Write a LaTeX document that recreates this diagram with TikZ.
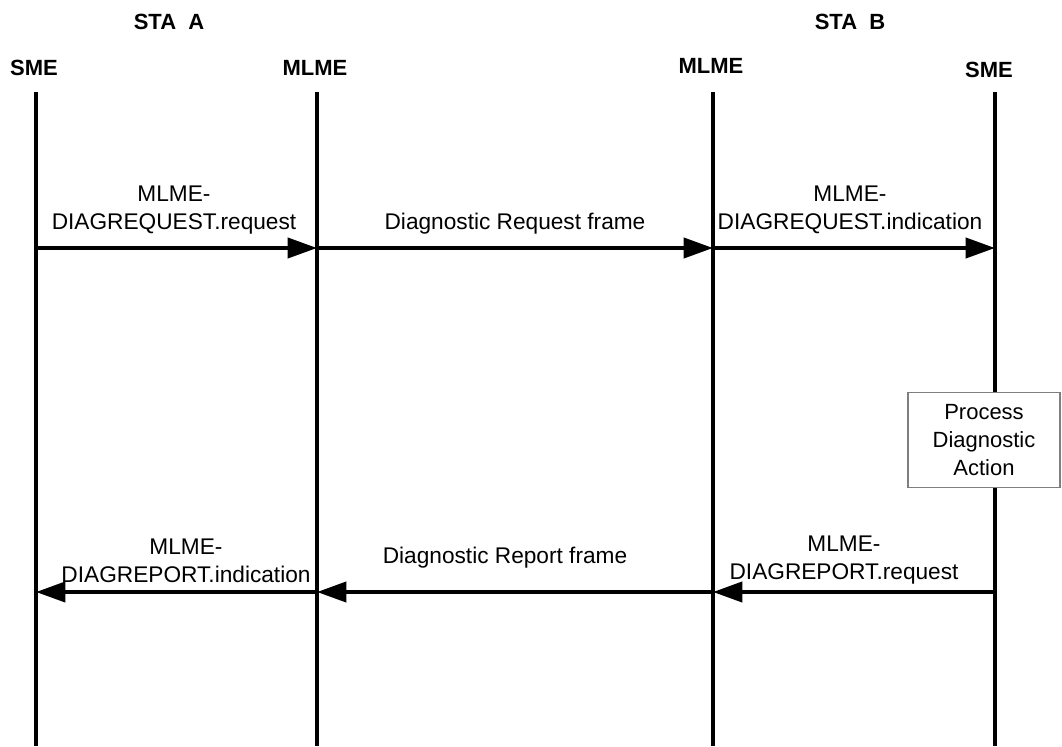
\documentclass[tikz,border=0pt]{standalone}
\usepackage{fontspec}
\setmainfont{Liberation Sans}
\usetikzlibrary{arrows.meta,positioning}
\definecolor{ink}{HTML}{000000}
\definecolor{boxgray}{HTML}{7F7F7F}
\tikzset{
  hdr/.style={font=\fontsize{16.5}{20}\selectfont\bfseries,inner sep=0pt,text=ink},
  msg/.style={font=\fontsize{17}{21}\selectfont,align=center,inner sep=0pt,
              anchor=south,text=ink},
  life/.style={line width=3pt,color=ink},
  sig/.style={line width=3pt,color=ink,-{Triangle[length=22pt,width=15pt]}},
  procbox/.style={rectangle,draw=boxgray,fill=white,line width=0.8pt,
                  minimum width=114pt,minimum height=71pt,
                  font=\fontsize{16.5}{21}\selectfont,align=center,text=ink},
}
\begin{document}
\begin{tikzpicture}[x=0.75pt,y=-0.75pt]
  \useasboundingbox (0,0) rectangle (1062,746);

  % station and entity headers
  \node[hdr] (staA) at (169,22) {STA\ \ A};
  \node[hdr] (staB) at (850,22) {STA\ \ B};
  \node[hdr] (smeA)  at (34,68)  {SME};
  \node[hdr] (mlmeA) at (315,68) {MLME};
  \node[hdr] (mlmeB) at (711,66) {MLME};
  \node[hdr] (smeB)  at (989,70) {SME};

  % lifelines
  \coordinate (smeA top)  at (36,92);   \coordinate (smeA bot)  at (36,746);
  \coordinate (mlmeA top) at (317,92);  \coordinate (mlmeA bot) at (317,746);
  \coordinate (mlmeB top) at (713,92);  \coordinate (mlmeB bot) at (713,746);
  \coordinate (smeB top)  at (995,92);  \coordinate (smeB bot)  at (995,746);
  \draw[life] (smeA top) -- (smeA bot);
  \draw[life] (mlmeA top) -- (mlmeA bot);
  \draw[life] (mlmeB top) -- (mlmeB bot);
  \draw[life] (smeB top) -- (smeB bot);

  % request path
  \coordinate (q1) at (36,248);  \coordinate (q2) at (317,248);
  \coordinate (q3) at (713,248); \coordinate (q4) at (995,248);
  \draw[sig] (q1) -- (q2);
  \draw[sig] (q2) -- (q3);
  \draw[sig] (q3) -- (q4);
  \node[msg] (reqlbl)  at (174,234) {MLME-\\DIAGREQUEST.request};
  \node[msg] (rqframe) at (515,234) {Diagnostic Request frame};
  \node[msg] (indlbl)  at (850,234) {MLME-\\DIAGREQUEST.indication};

  % processing at STA B
  \node[procbox] (proc) at (984,440) {Process\\Diagnostic\\Action};

  % report path
  \coordinate (r4) at (995,592); \coordinate (r3) at (713,592);
  \coordinate (r2) at (317,592); \coordinate (r1) at (36,592);
  \draw[sig] (r4) -- (r3);
  \draw[sig] (r3) -- (r2);
  \draw[sig] (r2) -- (r1);
  \node[msg] (replbl)  at (844,584) {MLME-\\DIAGREPORT.request};
  \node[msg] (rpframe) at (505,568) {Diagnostic Report frame};
  \node[msg] (rindlbl) at (186,583) {MLME-\\DIAGREPORT.indication};
\end{tikzpicture}
\end{document}
